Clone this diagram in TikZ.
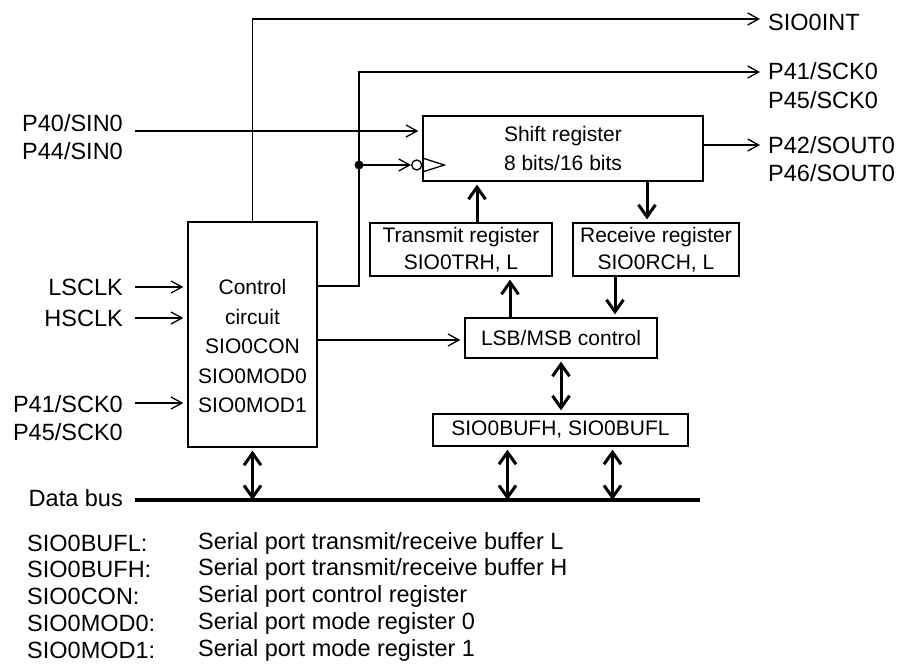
\documentclass[tikz,border=0pt]{standalone}
\usepackage{fontspec}
\setmainfont{Liberation Sans}
\usetikzlibrary{arrows.meta,positioning}

\begin{document}
\begin{tikzpicture}[x=1pt,y=-1pt,
  every node/.style={font=\fontsize{23.5}{28.5}\selectfont},
  blk/.style={draw, line width=1.3pt, inner sep=0pt, align=center, font=\fontsize{21}{27.5}\selectfont},
  lbl/.style={inner sep=0pt, align=left},
  wire/.style={line width=1.3pt},
  sig/.style={line width=1.3pt, -{Straight Barb[length=11pt,width=12pt]}},
  dat/.style={line width=3pt, -{Straight Barb[length=12pt,width=17pt]}, shorten >=3pt},
  dbl/.style={line width=3pt, {Straight Barb[length=12pt,width=17pt]}-{Straight Barb[length=12pt,width=17pt]}, shorten <=3pt, shorten >=3pt},
  bus/.style={line width=4.5pt}]
  \useasboundingbox (0,0) rectangle (906,672);

  % Blocks
  \node[blk, minimum width=280pt, minimum height=65pt, font=\fontsize{21}{29}\selectfont] (shift) at (563,148.5) {Shift register\\8 bits/16 bits};
  \node[blk, minimum width=182pt, minimum height=53pt] (txreg) at (461,249.5) {Transmit register\\SIO0TRH, L};
  \node[blk, minimum width=166pt, minimum height=53pt] (rxreg) at (656,249.5) {Receive register\\SIO0RCH, L};
  \node[blk, minimum width=192pt, minimum height=40pt] (lsbctl) at (561,338) {LSB/MSB control};
  \node[blk, minimum width=255pt, minimum height=32pt] (bufreg) at (560.5,430) {SIO0BUFH, SIO0BUFL};
  \node[blk, minimum width=129pt, minimum height=225pt] (ctrl) at (252.5,334.5) {};
  \node[lbl, align=center, font=\fontsize{21}{29.5}\selectfont] (ctrltext) at (252.5,346) {Control\\circuit\\SIO0CON\\SIO0MOD0\\SIO0MOD1};

  % Pins
  \node[lbl, anchor=east] (sin) at (123,137) {P40/SIN0\\P44/SIN0};
  \node[lbl, anchor=east] (lsclk) at (123,287) {LSCLK};
  \node[lbl, anchor=east] (hsclk) at (123,318) {HSCLK};
  \node[lbl, anchor=east] (sckin) at (123,418) {P41/SCK0\\P45/SCK0};
  \node[lbl, anchor=east] (dbus) at (123,498) {Data bus};
  \node[lbl, anchor=west] (sioint) at (768,22) {SIO0INT};
  \node[lbl, anchor=west] (sckout) at (768,85.5) {P41/SCK0\\P45/SCK0};
  \node[lbl, anchor=west] (sout) at (768,159) {P42/SOUT0\\P46/SOUT0};

  \coordinate (inttop) at (252.5,19);
  \coordinate (tap) at (359,165);
  \coordinate (scktop) at (359,72);
  \coordinate (busend) at (700,500);

  % Clock input of the shift register
  \node[draw, circle, line width=1.3pt, inner sep=0pt, minimum size=10pt, anchor=east] (bubble) at (shift.west |- tap) {};
  \draw[wire] (bubble.east) ++(0,-7) -- ++(22,7) -- ++(-22,7);

  % Thin signals
  \draw[sig, shorten >=8pt] (ctrl.north) -- (inttop) -- (inttop -| sioint.west);
  \draw[sig, shorten >=8pt] (ctrl.east |- 0,286) -| (tap) -- (scktop) -- (scktop -| sckout.west);
  \fill (tap) circle (4.5pt);
  \draw[sig] (tap) -- (bubble.west);
  \draw[sig, shorten <=12pt, shorten >=4pt] (sin.east |- 0,131) -- (shift.west |- 0,131);
  \draw[sig, shorten >=8pt] (shift.east |- 0,145) -- (sout.west |- 0,145);
  \draw[sig, shorten <=12pt, shorten >=4pt] (lsclk) -- (lsclk -| ctrl.west);
  \draw[sig, shorten <=12pt, shorten >=4pt] (hsclk) -- (hsclk -| ctrl.west);
  \draw[sig, shorten <=12pt, shorten >=4pt] (sckin.east |- 0,403) -- (ctrl.west |- 0,403);
  \draw[sig, shorten >=4pt] (ctrl.east |- 0,340) -- (lsbctl.west |- 0,340);

  % Data paths
  \draw[dat] ([xshift=16pt]txreg.north) -- ([xshift=16pt]txreg.north |- shift.south);
  \draw[dat] ([xshift=-9pt]rxreg.north |- shift.south) -- ([xshift=-9pt]rxreg.north);
  \draw[dat] ([xshift=-51pt]lsbctl.north) -- ([xshift=-51pt]lsbctl.north |- txreg.south);
  \draw[dat] ([xshift=54pt]lsbctl.north |- rxreg.south) -- ([xshift=54pt]lsbctl.north);
  \draw[dbl] (lsbctl.south) -- (lsbctl.south |- bufreg.north);
  \draw[dbl, shorten >=0pt] ([xshift=-53pt]bufreg.south) -- ([xshift=-53pt]bufreg.south |- busend);
  \draw[dbl, shorten >=0pt] ([xshift=52pt]bufreg.south) -- ([xshift=52pt]bufreg.south |- busend);
  \draw[dbl, shorten >=0pt] (ctrl.south) -- (ctrl.south |- busend);
  \draw[bus, shorten <=12pt] (dbus.east |- busend) -- (busend);

  % Legend
  \foreach \nm/\desc [count=\i] in {SIO0BUFL:/{Serial port transmit/receive buffer L},
      SIO0BUFH:/{Serial port transmit/receive buffer H},
      SIO0CON:/{Serial port control register},
      SIO0MOD0:/{Serial port mode register 0},
      SIO0MOD1:/{Serial port mode register 1}} {
    \node[lbl, anchor=west] (key\i) at (27,{543+26.8*(\i-1)}) {\nm};
    \node[lbl, anchor=west] (desc\i) at (198,{543+26.8*(\i-1)}) {\desc};
  }
\end{tikzpicture}
\end{document}
